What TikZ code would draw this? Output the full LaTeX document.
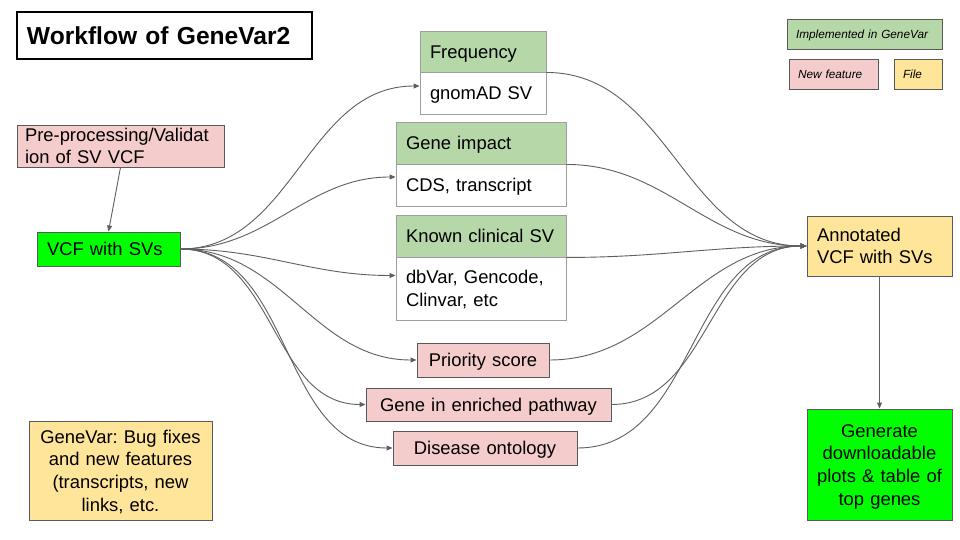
\documentclass[tikz,border=0pt]{standalone}
\usepackage{fontspec}
\setmainfont{Liberation Sans}
\usetikzlibrary{arrows.meta}
\frenchspacing
\definecolor{gpink}{HTML}{F4CCCC}
\definecolor{gyellow}{HTML}{FFE599}
\definecolor{glight}{HTML}{B6D7A8}
\definecolor{gbright}{HTML}{00FF00}
\definecolor{bordc}{HTML}{595959}
\definecolor{tblc}{HTML}{9E9E9E}
\definecolor{linec}{HTML}{5F5F5F}
\begin{document}
\begin{tikzpicture}[x=1pt,y=-1pt,
  bx/.style={draw=bordc, line width=0.9pt, inner xsep=10pt, inner ysep=0pt,
    font=\fontsize{18.4}{22.7}\selectfont, text=black},
  tb/.style={bx, draw=tblc},
  cb/.style={bx, inner xsep=3pt, align=center},
  one/.style={text height=13.2pt, text depth=0pt},
  two/.style={text height=13.2pt, text depth=22.7pt},
  four/.style={text height=13.2pt, text depth=68.1pt},
  leg/.style={bx, inner xsep=9pt, font=\fontsize{11.8}{14}\selectfont\itshape, text height=8.5pt, text depth=0pt},
  conn/.style={draw=linec, line width=0.9pt, -{Triangle[length=6pt,width=5pt]}},
]
\fill[white] (0,0) rectangle (960,540);
\useasboundingbox (0,0) rectangle (960,540);

% title
\node[draw=black, line width=1.2pt, inner xsep=10pt, inner ysep=0pt, minimum width=295pt, minimum height=47pt,
  text width=275pt, align=left, font=\fontsize{24.6}{28}\selectfont\bfseries,
  text height=17.6pt, text depth=0pt] (title) at (164.5,35.5) {Workflow of GeneVar2};

% legend
\node[leg, fill=glight, minimum width=155pt, minimum height=30pt, text width=137pt, align=left] (lgimp) at (864.5,34) {Implemented in GeneVar};
\node[leg, fill=gpink, minimum width=89pt, minimum height=30pt, text width=71pt, align=left] (lgnew) at (833.5,74) {New feature};
\node[leg, fill=gyellow, minimum width=48pt, minimum height=30pt, text width=30pt, align=left] (lgfile) at (918,74) {File};

% left
\node[bx, two, fill=gpink, inner xsep=8pt, minimum width=207pt, minimum height=42pt, text width=191pt, align=left] (pre) at (120.5,146) {Pre-processing/Validat\\ion of SV VCF};
\node[bx, one, fill=gbright, minimum width=143pt, minimum height=34pt, text width=123pt, align=left] (vcf) at (108.5,249) {VCF with SVs};
\node[cb, four, fill=gyellow, minimum width=183pt, minimum height=99pt, text width=177pt] (gv) at (120.5,470.5) {GeneVar: Bug fixes\\and new features\\(transcripts, new\\links, etc.};

% middle tables
\node[tb, one, fill=glight, minimum width=126pt, minimum height=41pt, text width=106pt, align=left] (freqH) at (483,51.5) {Frequency};
\node[tb, one, fill=white, minimum width=126pt, minimum height=42pt, text width=106pt, align=left] (freqL) at (483,93) {gnomAD SV};
\node[tb, one, fill=glight, minimum width=170pt, minimum height=42pt, text width=150pt, align=left] (geneH) at (481,143) {Gene impact};
\node[tb, one, fill=white, minimum width=170pt, minimum height=42pt, text width=150pt, align=left] (geneL) at (481,185) {CDS, transcript};
\node[tb, one, fill=glight, minimum width=170pt, minimum height=42pt, text width=150pt, align=left] (clinH) at (481,236) {Known clinical SV};
\node[tb, two, fill=white, minimum width=170pt, minimum height=63pt, text width=150pt, align=left] (clinL) at (481,288.5) {dbVar, Gencode,\\Clinvar, etc};

% middle pink
\node[cb, one, fill=gpink, minimum width=132pt, minimum height=34pt, text width=126pt] (prio) at (483,360) {Priority score};
\node[cb, one, fill=gpink, minimum width=245pt, minimum height=33pt, text width=239pt] (path) at (488.5,404.5) {Gene in enriched pathway};
\node[cb, one, fill=gpink, minimum width=184pt, minimum height=34pt, text width=178pt] (dis) at (485,448) {Disease ontology};

% right
\node[bx, two, fill=gyellow, minimum width=145pt, minimum height=60pt, text width=125pt, align=left] (ann) at (879.5,246) {Annotated\\VCF with SVs};
\node[cb, four, fill=gbright, minimum width=145pt, minimum height=111pt, text width=139pt] (gen) at (879.5,464.5) {Generate\\downloadable\\plots \& table of\\top genes};

% connectors
\draw[conn] (pre.south) -- (vcf.north);
\draw[conn] (vcf.east) to[out=0,in=180] ([yshift=7pt]freqL.west);
\draw[conn] (vcf.east) to[out=0,in=180] ([yshift=8pt]geneL.west);
\draw[conn] (vcf.east) to[out=0,in=180] ([yshift=13pt]clinL.west);
\draw[conn] (vcf.east) to[out=0,in=180] (prio.west);
\draw[conn] (vcf.east) to[out=0,in=180] (path.west);
\draw[conn] (vcf.east) to[out=0,in=180] (dis.west);

\draw[conn] (freqH.south east) to[out=0,in=180] (ann.west);
\draw[conn] (geneH.south east) to[out=0,in=180] (ann.west);
\draw[conn] (clinH.south east) to[out=0,in=180] (ann.west);
\draw[conn] (prio.east) to[out=0,in=180] (ann.west);
\draw[conn] (path.east) to[out=0,in=180] (ann.west);
\draw[conn] (dis.east) to[out=0,in=180] (ann.west);

\draw[conn] (ann.south) -- (gen.north);
\end{tikzpicture}
\end{document}
